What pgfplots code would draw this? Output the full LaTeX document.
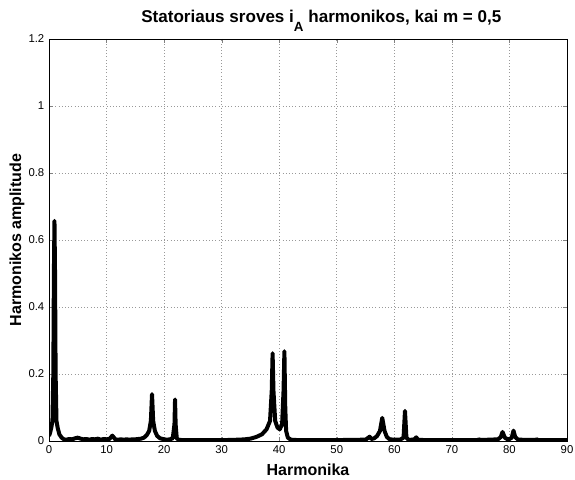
\documentclass[border=0pt]{standalone}
\usepackage{pgfplots}
\pgfplotsset{compat=1.18}
\usepackage{fontspec}
\setmainfont{Liberation Sans}
\begin{document}
\begin{tikzpicture}
\begin{axis}[
  scale only axis,
  width=388.5pt, height=301.5pt,
  xmin=0, xmax=90, ymin=0, ymax=1.2,
  xtick={0,10,...,90},
  ytick={0,0.2,0.4,0.6,0.8,1,1.2},
  yticklabels={0,0.2,0.4,0.6,0.8,1,1.2},
  /pgf/number format/assume math mode=true,
  tick label style={font=\fontsize{8.5}{10}\selectfont},
  tick align=inside,
  major tick length=3pt,
  xtick pos=both, ytick pos=both,
  grid=major,
  major grid style={dotted, gray!80, line width=0.45pt},
  axis line style={black, line width=0.5pt},
  xlabel={\bfseries Harmonika},
  ylabel={\bfseries Harmonikos amplitude},
  label style={font=\fontsize{12}{13}\selectfont},
  xlabel style={at={(axis description cs:0.5,-0.071)}, anchor=center},
  ylabel style={at={(axis description cs:-0.062,0.5)}, anchor=center},
  title={\bfseries Statoriaus sroves i\raisebox{-6pt}{\fontsize{10}{11}\selectfont A} harmonikos, kai m = 0,5},
  title style={font=\fontsize{12.8}{14}\selectfont, at={(axis description cs:0.5,1)}, anchor=base, yshift=6pt, xshift=10pt},
]
\addplot[black, line width=3pt, line join=round] coordinates {
(0,0.015) (0.2,0.025) (0.4,0.04) (0.6,0.06) (0.75,0.2) (0.85,0.5) (0.95,0.657)
(1.05,0.5) (1.15,0.2) (1.3,0.06) (1.5,0.04) (1.8,0.02) (2.2,0.01) (2.6,0.005)
(3,0.004) (3.5,0.006) (4,0.005) (4.5,0.008) (5,0.01) (5.5,0.007) (6,0.005)
(6.5,0.006) (7,0.004) (7.5,0.006) (8,0.005) (8.5,0.007) (9,0.004) (9.5,0.006)
(10,0.005) (10.5,0.006) (10.8,0.012) (11,0.016) (11.2,0.012) (11.5,0.005)
(12,0.004) (12.5,0.005) (13,0.004) (13.5,0.005) (14,0.004) (14.5,0.005)
(15,0.005) (15.5,0.006) (16,0.007) (16.5,0.01) (17,0.018) (17.4,0.03)
(17.7,0.06) (17.9,0.14) (18.1,0.06) (18.4,0.03) (18.8,0.015) (19.3,0.008)
(20,0.005) (20.5,0.004) (21,0.005) (21.5,0.008) (21.8,0.05) (21.9,0.124)
(22.0,0.05) (22.2,0.008) (22.5,0.004) (23,0.003) (25,0.003) (28,0.003)
(31,0.003) (33,0.004) (34,0.005) (35,0.007) (36,0.012) (37,0.02) (37.8,0.035)
(38.4,0.06) (38.7,0.15) (38.85,0.262) (39.0,0.15) (39.3,0.06) (39.7,0.04)
(40.1,0.035) (40.5,0.05) (40.75,0.15) (40.9,0.268) (41.05,0.1) (41.2,0.03)
(41.5,0.01) (42,0.004) (43,0.003) (47,0.003) (51,0.003) (55,0.004)
(55.5,0.01) (55.7,0.013) (56,0.006) (56.5,0.008) (57,0.015) (57.5,0.03)
(57.9,0.069) (58.3,0.03) (58.7,0.012) (59.2,0.005) (60,0.004) (61,0.004)
(61.6,0.01) (61.85,0.09) (62.1,0.01) (62.5,0.003) (63.5,0.005) (63.8,0.011)
(64.1,0.004) (65,0.003) (70,0.003) (74.5,0.003) (74.7,0.005) (75,0.003)
(78,0.005) (78.5,0.012) (78.8,0.027) (79.2,0.01) (79.8,0.004) (80.4,0.01)
(80.7,0.031) (81,0.012) (81.5,0.004) (84.5,0.003) (84.7,0.005) (85,0.003)
(90,0.003)
};
\end{axis}
\pgfresetboundingbox
\path[use as bounding box] ([xshift=-36.75pt,yshift=-28.5pt]current axis.south west) rectangle ([xshift=6pt,yshift=29.25pt]current axis.north east);
\end{tikzpicture}
\end{document}
